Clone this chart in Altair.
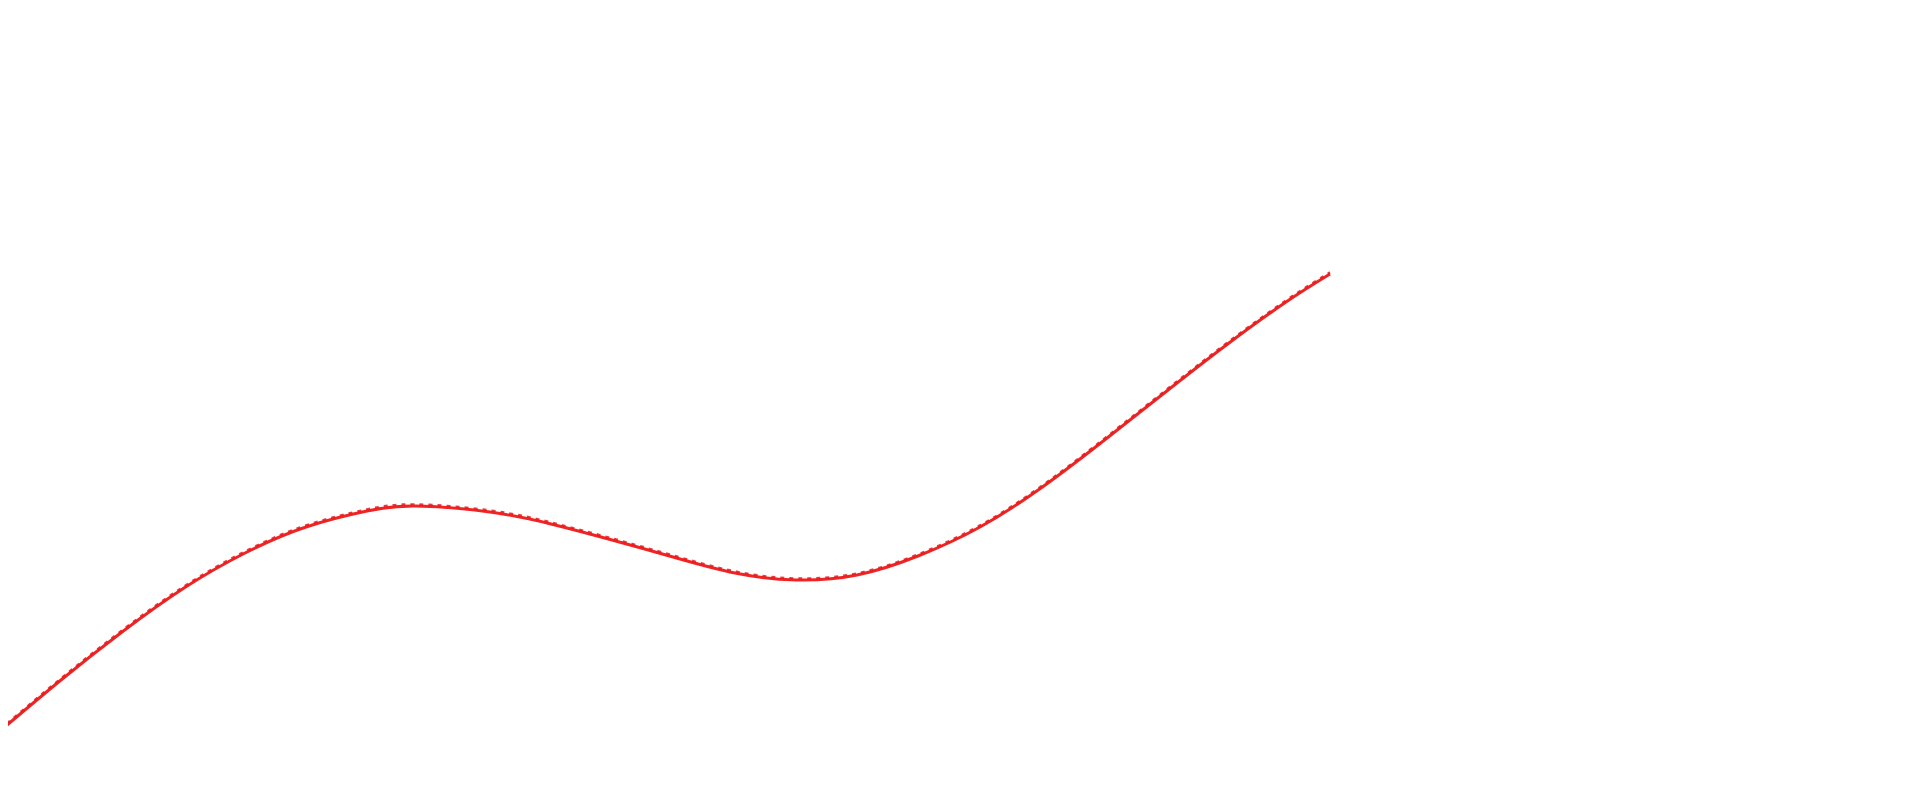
import altair as alt
import pandas as pd

# x positions and curve values
xs = [0.00, 0.61, 1.22, 1.84, 2.45, 3.06, 3.67, 4.16, 4.90, 5.51, 6.12, 6.73,
      7.35, 7.96, 8.57, 9.18, 9.80, 10.41, 11.02, 11.63, 12.25, 12.86, 13.30]
ys = [0.69, 1.20, 1.68, 2.12, 2.47, 2.73, 2.89, 2.94, 2.88, 2.76, 2.60, 2.43,
      2.27, 2.20, 2.25, 2.44, 2.73, 3.12, 3.58, 4.06, 4.54, 4.98, 5.26]

df = pd.DataFrame({"x": xs, "y": ys})

xscale = alt.Scale(domain=[0.08, 19.12], nice=False, zero=False)
yscale = alt.Scale(domain=[0.08, 7.92], nice=False, zero=False)

base = alt.Chart(df).encode(
    x=alt.X("x:Q", scale=xscale, axis=None),
    y=alt.Y("y:Q", scale=yscale, axis=None),
)

solid = base.mark_line(color="#f02424", strokeWidth=3, interpolate="natural", clip=True)
dashed = base.mark_line(color="#e61a1a", strokeWidth=2.4, strokeDash=[4, 5],
                        interpolate="natural", clip=True, yOffset=-1.6, opacity=0.85)

chart = alt.layer(solid, dashed).properties(
    width=1904, height=784, padding=0
).configure_view(stroke=None)

chart.save("out.html", embed_options={"renderer": "svg", "actions": False})
